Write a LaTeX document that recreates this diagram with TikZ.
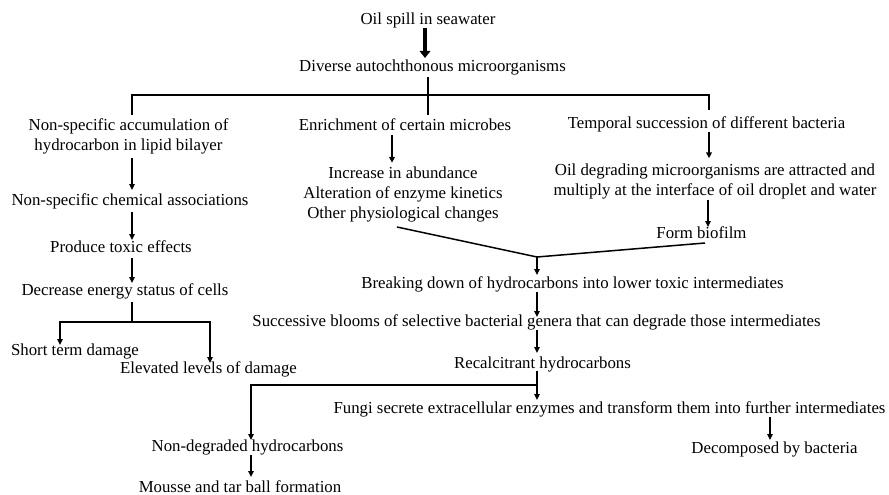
\documentclass[tikz,border=0pt]{standalone}
\usepackage{fontspec}
\setmainfont{Liberation Serif}
\usetikzlibrary{arrows.meta,calc}
\begin{document}
\begin{tikzpicture}[x=1pt,y=-1pt,
  lbl/.style={inner sep=0pt, outer sep=0pt, anchor=base, align=center,
    font=\fontsize{16.8}{20}\selectfont},
  conn/.style={line width=1.5pt, line join=miter},
  arr/.style={conn, -{Triangle[length=6pt,width=5.5pt]}},
  bigarr/.style={line width=4.7pt, -{Triangle[length=7pt,width=10.5pt]}},
]
\useasboundingbox (0,0) rectangle (889,495);

% ---- text of the flow (multi-line nodes sit on their last baseline) ----
\node[lbl] (oil)  at (428,25)  {Oil spill in seawater};
\node[lbl] (div)  at (432.5,72) {Diverse autochthonous microorganisms};
\node[lbl] (acc)  at (128.5,150) {Non-specific accumulation of\\hydrocarbon in lipid bilayer};
\node[lbl] (enr)  at (405,130) {Enrichment of certain microbes};
\node[lbl] (tmp)  at (706.5,128) {Temporal succession of different bacteria};
\node[lbl] (chem) at (130,205) {Non-specific chemical associations};
\node[lbl] (incr) at (403,218) {Increase in abundance\\Alteration of enzyme kinetics\\Other physiological changes};
\node[lbl] (odeg) at (715,195) {Oil degrading microorganisms are attracted and\\multiply at the interface of oil droplet and water};
\node[lbl] (tox)  at (121,252) {Produce toxic effects};
\node[lbl] (bio)  at (701.5,238) {Form biofilm};
\node[lbl] (en)   at (125,295) {Decrease energy status of cells};
\node[lbl] (brk)  at (572.5,288) {Breaking down of hydrocarbons into lower toxic intermediates};
\node[lbl] (suc)  at (536.5,326) {Successive blooms of selective bacterial genera that can degrade those intermediates};
\node[lbl] (short) at (75,355) {Short term damage};
\node[lbl] (elev) at (208.5,373) {Elevated levels of damage};
\node[lbl] (rec)  at (542.5,368) {Recalcitrant hydrocarbons};
\node[lbl] (fun)  at (609.5,413) {Fungi secrete extracellular enzymes and transform them into further intermediates};
\node[lbl] (ndeg) at (247.5,451) {Non-degraded hydrocarbons};
\node[lbl] (dec)  at (774.5,453) {Decomposed by bacteria};
\node[lbl] (mou)  at (240,492) {Mousse and tar ball formation};

% ---- vertical guide lines and junctions ----
\coordinate (xTop) at (425,0);
\coordinate (xD) at (428,0);
\coordinate (xL) at (132,0);
\coordinate (xR) at (709,0);
\coordinate (xE) at (392,0);
\coordinate (xO) at (708,0);
\coordinate (xM) at (537,0);
\coordinate (xS) at (60,0);
\coordinate (xV) at (210,0);
\coordinate (xN) at (251,0);
\coordinate (xF) at (770,0);
\coordinate (bar) at (0,95);
\coordinate (jE) at (132,322);
\coordinate (jB) at (537,257);
\coordinate (jR) at (537,385);
\coordinate (inL) at (397,227);
\coordinate (inR) at (705,243);

% ---- connectors ----
\draw[bigarr] ([yshift=-3pt]oil.base -| xTop) -- ([yshift=14pt]div.base -| xTop);
\draw[conn] ([yshift=-5pt]div.base -| xD) -- ([yshift=15pt]enr.base -| xD);
\draw[conn] ([yshift=35pt]acc.base -| xL) |- (bar -| xR) -- ([yshift=18pt]tmp.base -| xR);

% left branch
\draw[arr] ([yshift=-4.3pt]acc.south -| xL) -- ([yshift=15pt]chem.base -| xL);
\draw[arr] ([yshift=-7pt]chem.base -| xL) -- ([yshift=12pt]tox.base -| xL);
\draw[arr] ([yshift=-6pt]tox.base -| xL) -- ([yshift=12pt]en.base -| xL);
\draw[conn] ([yshift=-7pt]en.base -| xL) -- (jE);
\draw[arr] (jE) -| ([yshift=10pt]short.base -| xS);
\draw[arr] (jE) -| ([yshift=10pt]elev.base -| xV);

% middle and right branches
\draw[arr] ([yshift=-5pt]enr.base -| xE) -- ([yshift=3.5pt]incr.north -| xE);
\draw[arr] ([yshift=-4pt]tmp.base -| xR) -- ([yshift=5pt]odeg.north -| xR);
\draw[arr] ([yshift=-1.4pt]odeg.south -| xO) -- ([yshift=11pt]bio.base -| xO);
\draw[conn] (inL) -- (jB) -- (inR);
\draw[arr] (jB) -- ([yshift=13pt]brk.base -| jB);
\draw[arr] ([yshift=-4pt]brk.base -| xM) -- ([yshift=9pt]suc.base -| xM);
\draw[arr] ([yshift=-4pt]suc.base -| xM) -- ([yshift=15pt]rec.base -| xM);
\draw[arr] ([yshift=-3pt]rec.base -| xM) -- ([yshift=13pt]fun.base -| xM);
\draw[arr] (jR) -| ([yshift=11pt]ndeg.base -| xN);
\draw[arr] ([yshift=-4pt]ndeg.base -| xN) -- ([yshift=15pt]mou.base -| xN);
\draw[arr] ([yshift=-4pt]fun.base -| xF) -- ([yshift=13pt]dec.base -| xF);
\end{tikzpicture}
\end{document}
